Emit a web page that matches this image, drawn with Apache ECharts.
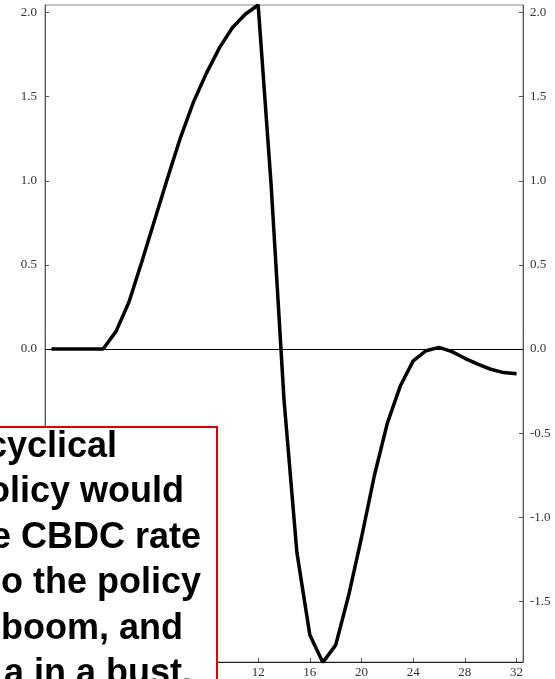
<!DOCTYPE html>
<html>
<head>
<meta charset="utf-8">
<script src="https://cdn.jsdelivr.net/npm/echarts@6/dist/echarts.min.js"></script>
<style>
html,body{margin:0;padding:0;background:#fff;}
#chart{width:555px;height:679px;}
</style>
</head>
<body>
<div id="chart"></div>
<script>
// Horizon (quarters) and response values
const quarters = [-4,-3,-2,-1,0,1,2,3,4,5,6,7,8,9,10,11,12,13,14,15,16,17,18,19,20,21,22,23,24,25,26,27,28,29,30,31,32];
const response = [0,0,0,0,0,0.105,0.28,0.52,0.77,1.02,1.26,1.47,1.64,1.79,1.91,1.99,2.045,0.98,-0.30,-1.21,-1.70,-1.862,-1.76,-1.465,-1.12,-0.75,-0.44,-0.22,-0.07,-0.01,0.01,-0.015,-0.055,-0.09,-0.12,-0.14,-0.147];
const xTickLabels = [12,16,20,24,28,32];
const noteLines = ["cyclical","olicy would","e CBDC rate","o the policy","boom, and","a in a bust."];

const chart = echarts.init(document.getElementById('chart'));
const serif = 'Liberation Serif, Times New Roman, serif';
const tickEvery = (idx, val) => (Number(val) % 4 === 0);

function yAxisCfg(pos, margin) {
  return {
    type: 'value', position: pos, min: -1.86, max: 2.045, splitNumber: 8,
    axisLine: {show: true, onZero: false, lineStyle: {color: '#555', width: 1}},
    axisTick: {show: true, inside: true, length: 4, lineStyle: {color: '#555'}},
    axisLabel: {show: true, margin: margin, color: '#333', fontFamily: serif, fontSize: 13,
      showMinLabel: false, showMaxLabel: false,
      formatter: v => (Math.abs(v - Math.round(v * 2) / 2) < 1e-6 ? v.toFixed(1) : '')},
    splitLine: {show: false}
  };
}

const rightEdges = [117, 184, 201, 201, 183, 192];
const graphics = [{
  type: 'rect', z: 100,
  shape: {x: -10, y: 427, width: 227, height: 270},
  style: {fill: '#fff', stroke: '#e00000', lineWidth: 2}
}];
noteLines.forEach((t, i) => {
  graphics.push({
    type: 'text', z: 101, x: rightEdges[i], y: 447 + i * 45.5,
    style: {text: t, fill: '#000', font: 'bold 36px "Liberation Sans", Arial, sans-serif',
      textAlign: 'right', textVerticalAlign: 'middle', align: 'right', verticalAlign: 'middle'}
  });
});

chart.setOption({
  animation: false,
  grid: {left: 45, right: 32, top: 5, bottom: 16, show: true, borderColor: '#888', borderWidth: 1},
  xAxis: {
    type: 'category', data: quarters.map(String), boundaryGap: true,
    axisLine: {show: true, onZero: false, lineStyle: {color: '#222', width: 1}},
    axisTick: {show: true, inside: true, length: 4, alignWithLabel: true, interval: tickEvery, lineStyle: {color: '#555'}},
    axisLabel: {interval: tickEvery, margin: 4, color: '#333', fontFamily: serif, fontSize: 13},
    splitLine: {show: false}
  },
  yAxis: [yAxisCfg('left', 8), yAxisCfg('right', 7)],
  series: [{
    type: 'line', data: response, symbol: 'none', yAxisIndex: 0,
    lineStyle: {color: '#000', width: 3.5}, z: 5,
    markLine: {silent: true, symbol: 'none', label: {show: false},
      lineStyle: {color: '#000', width: 1, type: 'solid'}, data: [{yAxis: 0}]}
  }],
  graphic: graphics
});
</script>
</body>
</html>
